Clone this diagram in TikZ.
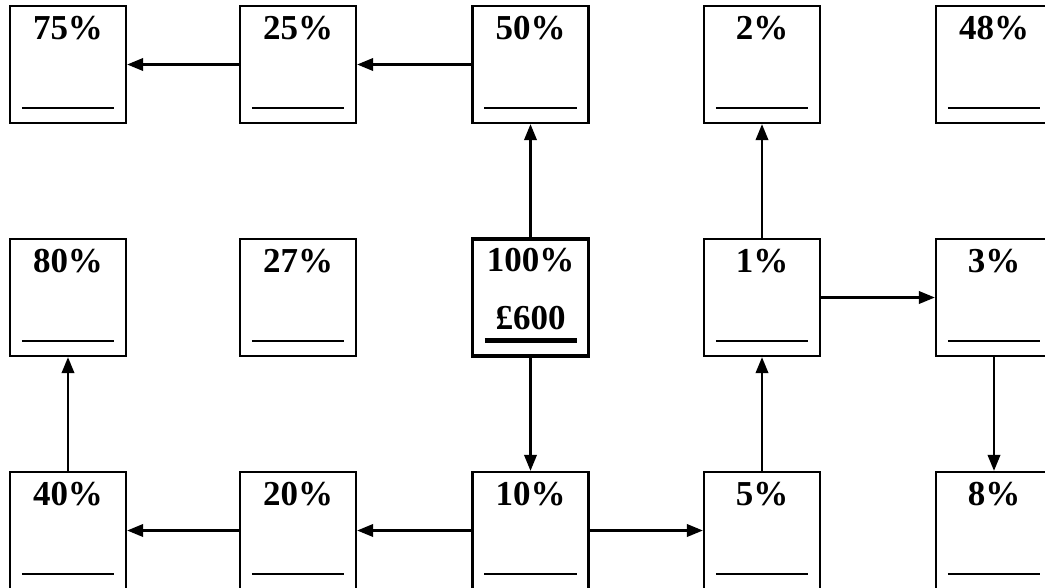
\documentclass[tikz,border=0pt]{standalone}
\usepackage{fontspec}
\setmainfont{Liberation Serif}
\usetikzlibrary{arrows.meta}
\tikzset{
  pbox/.style={draw, line width=2.3pt, minimum width=116pt, minimum height=117pt, inner sep=0pt},
  mbox/.style={pbox, line width=3.2pt},
  ptext/.style={font=\fontsize{35}{40}\selectfont\bfseries, inner sep=0pt, anchor=base},
  uline/.style={line width=2.4pt},
  muline/.style={line width=4.5pt},
  arr/.style={line width=2.2pt, -{Triangle[length=16pt,width=12.5pt]}}
}
\newcommand\pctbox[4]{%
  \node[pbox] (#1) at (#2,#3) {};
  \node[ptext] (#1t) at ([yshift=-35pt]#1.north) {#4};
  \draw[uline] ([xshift=13pt,yshift=16pt]#1.south west) -- ([xshift=-13pt,yshift=16pt]#1.south east);
}
\begin{document}
\begin{tikzpicture}[x=1pt,y=-1pt]
\clip (0,0) rectangle (1045,587);
\fill[white] (0,0) rectangle (1045,587);
% row 1
\pctbox{b75}{68}{64.5}{75\%}
\pctbox{b25}{298}{64.5}{25\%}
\pctbox{b50}{530.5}{64.5}{50\%}
\pctbox{b2}{762}{64.5}{2\%}
\pctbox{b48}{994}{64.5}{48\%}
% row 2
\pctbox{b80}{68}{297.5}{80\%}
\pctbox{b27}{298}{297.5}{27\%}
\node[mbox] (b100) at (530.5,297.5) {};
\node[ptext] (b100t) at ([yshift=-34pt]b100.north) {100\%};
\node[ptext] (b100m) at ([yshift=-92pt]b100.north) {£600};
\draw[muline] ([xshift=14pt,yshift=17pt]b100.south west) -- ([xshift=-13pt,yshift=17pt]b100.south east);
\pctbox{b1}{762}{297.5}{1\%}
\pctbox{b3}{994}{297.5}{3\%}
% row 3
\pctbox{b40}{68}{530.5}{40\%}
\pctbox{b20}{298}{530.5}{20\%}
\pctbox{b10}{530.5}{530.5}{10\%}
\pctbox{b5}{762}{530.5}{5\%}
\pctbox{b8}{994}{530.5}{8\%}
% arrows
\draw[arr] (b25.west) -- (b75.east);
\draw[arr] (b50.west) -- (b25.east);
\draw[arr] (b100.north) -- (b50.south);
\draw[arr] (b100.south) -- (b10.north);
\draw[arr] (b10.west) -- (b20.east);
\draw[arr] (b20.west) -- (b40.east);
\draw[arr] (b40.north) -- (b80.south);
\draw[arr] (b10.east) -- (b5.west);
\draw[arr] (b5.north) -- (b1.south);
\draw[arr] (b1.north) -- (b2.south);
\draw[arr] (b1.east) -- (b3.west);
\draw[arr] (b3.south) -- (b8.north);
\end{tikzpicture}
\end{document}
